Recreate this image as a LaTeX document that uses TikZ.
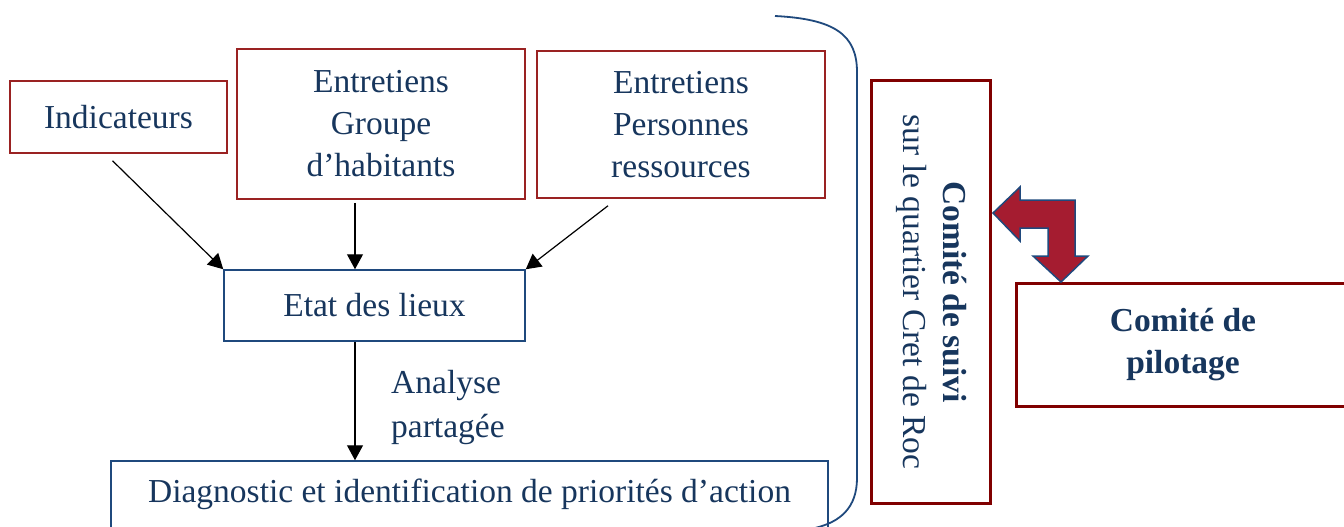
\documentclass[tikz,border=0pt]{standalone}
\usepackage{fontspec}
\setmainfont{Liberation Serif}
\usetikzlibrary{arrows.meta,calc}
\definecolor{navytext}{HTML}{17365D}
\definecolor{navyline}{HTML}{1F497D}
\definecolor{boxred}{HTML}{9A2222}
\definecolor{darkred}{HTML}{800000}
\definecolor{arrowred}{HTML}{A51C30}
\tikzset{
  txt/.style={text=navytext, font=\fontsize{33.5}{42}\selectfont, align=center, inner sep=0pt},
  redbox/.style={txt, draw=boxred, line width=1.5pt},
  bluebox/.style={txt, draw=navyline, line width=1.5pt},
  thickbox/.style={txt, draw=darkred, line width=3pt},
  flow/.style={draw=black, line width=1.2pt, -{Triangle[length=15pt,width=16pt]}},
}
\begin{document}
\begin{tikzpicture}[x=1pt,y=-1pt]
\useasboundingbox (0,0) rectangle (1344,527);

% sources
\node[redbox, minimum width=217pt, minimum height=72pt] (ind) at (118.5,117) {Indicateurs};
\node[redbox, minimum width=288pt, minimum height=150pt] (grp) at (381,124) {Entretiens\\Groupe\\d’habitants};
\node[redbox, minimum width=288pt, minimum height=147pt] (pers) at (681,124.5) {Entretiens\\Personnes\\ressources};

% synthesis
\node[bluebox, minimum width=301pt, minimum height=71pt] (etat) at (374.5,305.5) {Etat des lieux};
\node[bluebox, minimum width=717pt, minimum height=67pt] (diag) at (469.5,494.5) {Diagnostic et identification de priorités d’action};
\node[txt, align=left, anchor=west, font=\fontsize{33.5}{44}\selectfont] (ana) at (391,407) {Analyse\\partagée};

% arrows into and out of the inventory
\coordinate (ax) at (355,0);
\draw[flow] ([xshift=-6pt,yshift=-7pt]ind.south) -- (etat.north west);
\draw[flow] ([yshift=-3pt]grp.south -| ax) -- (etat.north -| ax);
\draw[flow] ([xshift=-73pt,yshift=-7pt]pers.south) -- (etat.north east);
\draw[flow] (etat.south -| ax) -- (diag.north -| ax);

% bracket grouping the process
\draw[navyline, line width=1.8pt] (775,16) .. controls (835,19) and (857,35) .. (857,72)
  -- (857,478) .. controls (857,508) and (840,522) .. (815,528);

% committees
\node[thickbox, rotate=-90, minimum width=422pt, minimum height=119pt,
      font=\fontsize{33.5}{40}\selectfont] (suivi) at (931.3,292)
      {\textbf{Comité de suivi}\\sur le quartier Cret de Roc};
\node[thickbox, minimum width=334pt, minimum height=123pt] (pilot) at (1183,344.5)
      {\textbf{Comité de}\\\textbf{pilotage}};

% two-way bent arrow between the committees
\filldraw[fill=arrowred, draw=navyline, line width=1.5pt, line join=miter]
  (993,213) -- (1020,187) -- (1020,200) -- (1075,200) -- (1075,256) -- (1088,256)
  -- (1061,282) -- (1033,256) -- (1048,256) -- (1048,228) -- (1020,228) -- (1020,241) -- cycle;
\end{tikzpicture}
\end{document}
